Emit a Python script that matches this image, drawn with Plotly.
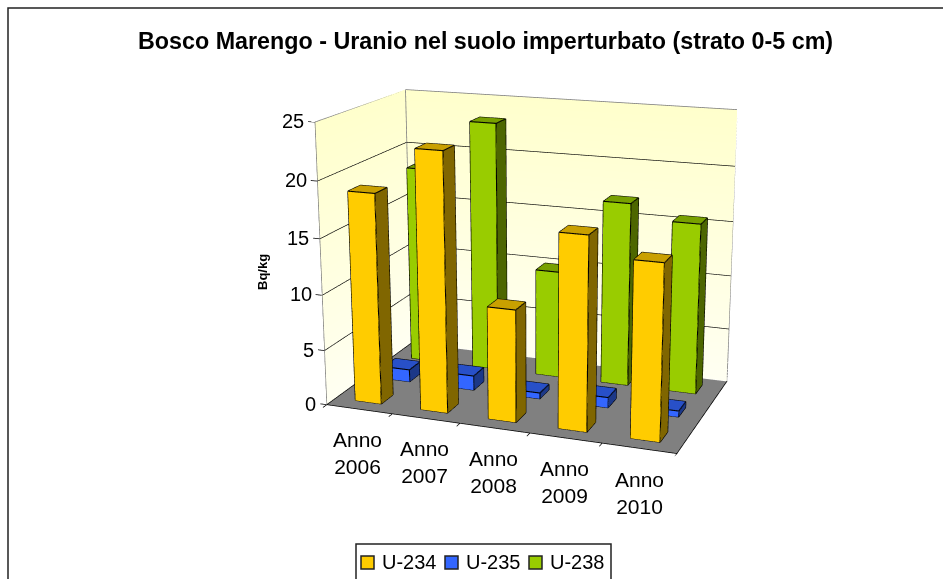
import plotly.graph_objects as go

title = "Bosco Marengo - Uranio nel suolo imperturbato (strato 0-5 cm)"
years = ["Anno<br>2006", "Anno<br>2007", "Anno<br>2008", "Anno<br>2009", "Anno<br>2010"]
series = ["U-234", "U-235", "U-238"]
u234 = [18.9, 23.0, 10.0, 17.0, 15.3]
u235 = [1.15, 1.35, 0.55, 0.95, 0.55]
u238 = [18.5, 23.2, 10.0, 16.9, 15.6]
ztick_vals = [0, 5, 10, 15, 20, 25]
front = ["#FFCC00", "#3366FF", "#99CC00"]
top = ["#C9A000", "#2850C8", "#78A000"]
side = ["#806600", "#1C3888", "#4D6600"]

values = [u234, u235, u238]
nx, ny, zmax = len(years), len(series), ztick_vals[-1]
BAR = 0.4
GAP = (1 - BAR) / 2
# Oversized scene so that the 45-degree plotly lens gives the reference's long focal length;
# the div is lifted by TOP so the scene centre lands on the chart centre.
W, H, TOP = 1076, 1234, 350
EPS_Z, EPS_XY = 0.03, 0.006

def px(x):
    return x / W

def py(y):
    return 1 - (y + TOP) / H

fig = go.Figure()

def add_quads(quads, colors, **kw):
    xs, ys, zs, i, j, k, fc = [], [], [], [], [], [], []
    for q, c in zip(quads, colors):
        n = len(xs)
        for p in q:
            xs.append(p[0]); ys.append(p[1]); zs.append(p[2])
        i += [n, n]; j += [n + 1, n + 2]; k += [n + 2, n + 3]
        fc += [c, c]
    fig.add_trace(go.Mesh3d(x=xs, y=ys, z=zs, i=i, j=j, k=k, facecolor=fc, flatshading=True,
                            lighting=dict(ambient=1, diffuse=0, specular=0, roughness=1, fresnel=0),
                            hoverinfo="skip", showscale=False, **kw))

def add_lines(segs, color, width):
    xs, ys, zs = [], [], []
    for a, b in segs:
        xs += [a[0], b[0], None]; ys += [a[1], b[1], None]; zs += [a[2], b[2], None]
    fig.add_trace(go.Scatter3d(x=xs, y=ys, z=zs, mode="lines", line=dict(color=color, width=width),
                               hoverinfo="skip", showlegend=False))

# walls
wall_cols = ["#FFFFF2", "#FFFFF2", "#FFFFCC", "#FFFFCC"]
wl = dict(ambient=1, diffuse=0, specular=0)
fig.add_trace(go.Mesh3d(x=[0, nx, nx, 0], y=[ny + EPS_XY] * 4, z=[0, 0, zmax, zmax], i=[0, 0], j=[1, 2], k=[2, 3],
                        vertexcolor=wall_cols, lighting=wl, hoverinfo="skip"))
fig.add_trace(go.Mesh3d(x=[-EPS_XY] * 4, y=[0, ny, ny, 0], z=[0, 0, zmax, zmax], i=[0, 0], j=[1, 2], k=[2, 3],
                        vertexcolor=wall_cols, lighting=wl, hoverinfo="skip"))
add_quads([[(0, 0, -EPS_Z), (nx, 0, -EPS_Z), (nx, ny, -EPS_Z), (0, ny, -EPS_Z)]], ["#808080"])

# gridlines and axes
grid = []
for z in ztick_vals[1:-1]:
    grid += [((0, 0, z), (0, ny, z)), ((0, ny, z), (nx, ny, z))]
add_lines(grid, "#000000", 1.3)
add_lines([((0, 0, zmax), (0, ny, zmax)), ((0, ny, zmax), (nx, ny, zmax)), ((nx, ny, zmax), (nx, ny, 0)),
           ((0, ny, 0), (0, ny, zmax)), ((0, 0, 0), (0, 0, zmax))], "#808080", 1.6)
ticks = [((0, 0, z), (-0.1, 0, z)) for z in ztick_vals]
ticks += [((x, 0, 0), (x, -0.12, 0)) for x in range(nx + 1)]
ticks += [((0, 0, 0), (nx, 0, 0)), ((nx, 0, 0), (nx, ny, 0)), ((0, 0, 0), (0, ny, 0))]
add_lines(ticks, "#000000", 1.5)

# bars
for s in range(ny):
    quads, cols, edges = [], [], []
    for c in range(nx):
        h = values[s][c]
        x0, x1 = c + GAP, c + GAP + BAR
        y0, y1 = s + GAP, s + GAP + BAR
        quads += [[(x0, y0, 0), (x1, y0, 0), (x1, y0, h), (x0, y0, h)],
                  [(x1, y0, 0), (x1, y1, 0), (x1, y1, h), (x1, y0, h)],
                  [(x0, y0, h), (x1, y0, h), (x1, y1, h), (x0, y1, h)],
                  [(x0, y1, 0), (x1, y1, 0), (x1, y1, h), (x0, y1, h)],
                  [(x0, y0, 0), (x0, y1, 0), (x0, y1, h), (x0, y0, h)]]
        cols += [front[s], side[s], top[s], side[s], side[s]]
        for z in (0, h):
            edges += [((x0, y0, z), (x1, y0, z)), ((x1, y0, z), (x1, y1, z)),
                      ((x1, y1, z), (x0, y1, z)), ((x0, y1, z), (x0, y0, z))]
        edges += [((x0, y0, 0), (x0, y0, h)), ((x1, y0, 0), (x1, y0, h)), ((x1, y1, 0), (x1, y1, h))]
    add_quads(quads, cols)
    add_lines(edges, "#000000", 2.2)

annots = [dict(x=-0.13, y=0, z=z, text=str(z), showarrow=False, xanchor="right", yanchor="middle",
               font=dict(family="Liberation Sans", size=20, color="black")) for z in ztick_vals]
annots += [dict(x=c + 0.5, y=-0.2, z=0, text=years[c], showarrow=False, xanchor="center", yanchor="top",
                yshift=-12, xshift=4, font=dict(family="Liberation Sans", size=21, color="black")) for c in range(nx)]

# legend box, swatches and labels
leg_shapes = [dict(type="rect", xref="paper", yref="paper", x0=px(356), x1=px(611), y0=py(590), y1=py(544),
                   fillcolor="white", line=dict(color="#222222", width=1.5))]
leg_text = []
for s in range(ny):
    sx = 361 + 84 * s
    leg_shapes.append(dict(type="rect", xref="paper", yref="paper", x0=px(sx), x1=px(sx + 13), y0=py(569), y1=py(556),
                           fillcolor=front[s], line=dict(color="#222222", width=1.5)))
    leg_text.append(dict(text=series[s], xref="paper", yref="paper", x=px(sx + 19), y=py(562), showarrow=False,
                         xanchor="left", yanchor="middle", font=dict(family="Liberation Sans", size=20, color="black")))

hidden = dict(visible=False, showgrid=False, showbackground=False, showticklabels=False, zeroline=False, showspikes=False)
fig.update_layout(
    width=W, height=H, margin=dict(l=0, r=0, t=0, b=0), paper_bgcolor="white", plot_bgcolor="rgba(0,0,0,0)",
    font=dict(family="Liberation Sans", color="black"), showlegend=False,
    scene=dict(
        domain=dict(x=[0, 1], y=[0, 1]),
        xaxis=dict(range=[-0.2, nx], **hidden),
        yaxis=dict(range=[-0.2, ny + 2 * EPS_XY], **hidden),
        zaxis=dict(range=[-2 * EPS_Z, zmax], **hidden),
        aspectmode="manual", aspectratio=dict(x=0.975, y=0.565, z=0.745),
        camera=dict(eye=dict(x=1.304, y=-3.463, z=1.040), center=dict(x=0.039, y=0.014, z=-0.021),
                    projection=dict(type="perspective")),
        annotations=annots,
    ),
    annotations=[
        dict(text="<b>" + title + "</b>", xref="paper", yref="paper", x=px(485), y=py(41), showarrow=False,
             xanchor="center", yanchor="middle", font=dict(family="Liberation Sans", size=23.3, color="black")),
        dict(text="<b>Bq/kg</b>", xref="paper", yref="paper", x=px(262), y=py(272), showarrow=False,
             textangle=-90, xanchor="center", yanchor="middle", font=dict(family="Liberation Sans", size=13, color="black")),
    ] + leg_text,
    shapes=[dict(type="rect", xref="paper", yref="paper", x0=px(8), x1=px(960), y0=py(640), y1=py(8),
                 line=dict(color="#222222", width=1.5))] + leg_shapes,
)
fig.write_html("out.html", config=dict(displayModeBar=False),
               post_script="document.body.style.margin='0';document.body.style.marginTop='-%dpx';document.documentElement.style.overflow='hidden';document.body.style.overflow='hidden';" % TOP)
